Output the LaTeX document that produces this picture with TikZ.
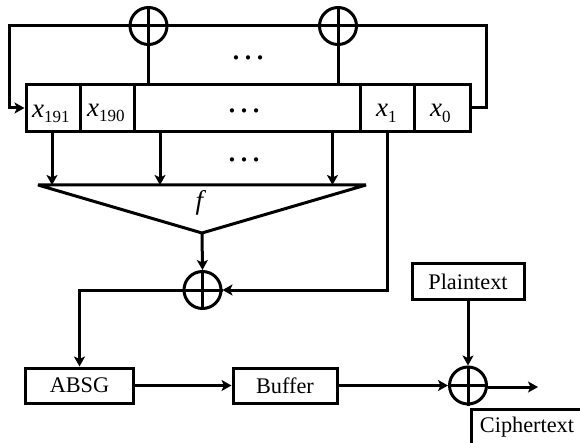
\documentclass[tikz,border=0pt]{standalone}
\usepackage{fontspec}
\setmainfont{Liberation Serif}
\usetikzlibrary{arrows.meta}
\newcommand{\subfont}{\fontsize{17}{19}\selectfont}
\newcommand{\xlabel}[2]{\textit{x}\raisebox{#2}{\subfont #1}}
\tikzset{
  x=1pt,y=-1pt,
  line/.style={draw=black,line width=3pt,line join=miter},
  arr/.style={line,-{Stealth[length=10pt,width=11pt,inset=2.5pt]}},
  box/.style={draw=black,line width=3pt,minimum height=35pt,inner sep=0pt,font=\fontsize{22.3}{24}\selectfont,anchor=center},
  cell/.style={inner sep=0pt,anchor=base west,font=\fontsize{27}{29}\selectfont},
  xorc/.style={circle,draw=black,line width=3pt,minimum size=37pt,inner sep=0pt},
  dotsl/.style={inner sep=0pt,anchor=base,font=\fontsize{36}{38}\selectfont},
}
\begin{document}
\begin{tikzpicture}
\useasboundingbox (0,0) rectangle (580,443);
\clip (0,0) rectangle (580,443);
% register
\node[draw=black,line width=3pt,minimum width=444pt,minimum height=47pt,inner sep=0pt] (reg) at (248,108.5) {};
\foreach \n/\x in {a/80.5,b/134.5,c/360,d/414.5}
  \draw[line] (\x,85) -- (\x,132);
\node[cell] (x191) at (32,118) {\xlabel{191}{-4.5pt}};
\node[cell] (x190) at (87,116.5) {\xlabel{190}{-5.5pt}};
\node[cell] (x1) at (376,116.5) {\xlabel{1}{-6pt}};
\node[cell] (x0) at (430,116.5) {\xlabel{0}{-6pt}};
% xors
\node[xorc] (xa) at (148.5,26) {};
\node[xorc] (xb) at (338,26) {};
\node[xorc] (xc) at (202.5,290) {};
\node[xorc] (xd) at (468,385.5) {};
\foreach \c in {xa,xb,xc,xd}{
  \draw[line] (\c.north) -- (\c.south);
  \draw[line] (\c.west) -- (\c.east);
}
% feedback
\coordinate (tl) at (9,26);
\coordinate (bl) at (9,108);
\coordinate (tr) at (486,26);
\coordinate (br) at (486,108);
\draw[line] (xa.east) -- (xb.west);
\draw[line] (xb.east) -- (tr) -- (br) -- (reg.east |- br);
\draw[arr] (xa.west) -- (tl) -- (bl) -- (reg.west |- bl);
\draw[line] (xa.south) -- (xa.south |- reg.north);
\draw[line] (xb.south) -- (xb.south |- reg.north);
\node[dotsl] (d1) at (248,60) {…};
\node[dotsl] (d2) at (244,113) {…};
\node[dotsl] (d3) at (244,162) {…};
% f
\coordinate (fl) at (38,185);
\coordinate (fr) at (366,185);
\coordinate (fa) at (202,233);
\draw[line,line join=bevel] (fl) -- (fr) -- (fa) -- cycle;
\node[inner sep=0pt,font=\fontsize{27}{29}\selectfont] (f) at (201,203) {\textit{f}};
\draw[arr] (52,132) -- (52,185);
\draw[arr] (160,132) -- (160,185);
\draw[arr] (332.5,132) -- (332.5,185);
% mid
\draw[arr] (fa) -- (xc.north);
\coordinate (xr) at (387.5,290);
\draw[arr] (387.5,132) -- (xr) -- (xc.east);
\node[box,minimum width=108pt] (absg) at (79.5,385.5) {ABSG};
\node[box,minimum width=104pt] (buf) at (285,385.5) {Buffer};
\node[box,minimum width=112pt] (plain) at (468,281.5) {Plaintext};
\node[box,minimum width=112pt] (ciph) at (527,427) {Ciphertext\hspace{4pt}};
\draw[arr] (xc.west) -| (absg.north);
\draw[arr] (absg.east) -- (buf.west);
\draw[arr] (buf.east) -- (xd.west);
\draw[arr] (plain.south) -- (xd.north);
\coordinate (out) at (538,387);
\draw[arr] (xd.east |- out) -- (out);
\end{tikzpicture}
\end{document}
